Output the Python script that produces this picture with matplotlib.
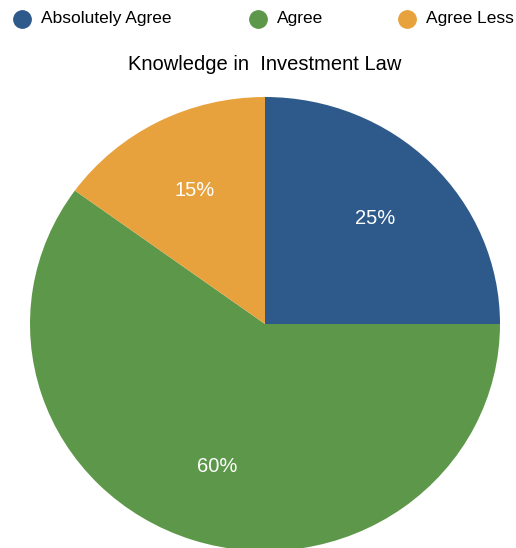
import matplotlib
matplotlib.use("Agg")
import matplotlib.pyplot as plt
from matplotlib.lines import Line2D

labels = ["Absolutely Agree", "Agree", "Agree Less"]
shares = [25, 60, 15]
colors = ["#2D5A8B", "#5D984A", "#E8A23D"]
title = "Knowledge in  Investment Law"

plt.rcParams["font.family"] = ["Liberation Sans", "DejaVu Sans"]

W, H = 516, 548
fig = plt.figure(figsize=(W / 100, H / 100), dpi=100)

# pie axes: centre at (265, 324) px from top-left, radii 235 x 227 px
cx, cy, rx, ry = 265, 324, 235, 227
ax = fig.add_axes([(cx - rx) / W, (H - cy - ry) / H, 2 * rx / W, 2 * ry / H])
wedges, texts, autotexts = ax.pie(
    shares, colors=colors, startangle=90, counterclock=False,
    autopct="%d%%", pctdistance=0.66,
    wedgeprops=dict(linewidth=0),
    textprops=dict(color="white", fontsize=14.5),
)
ax.set_xlim(-1, 1)
ax.set_ylim(-1, 1)
ax.set_aspect("auto")
ax.axis("off")

fig.text(cx / W, 1 - 64 / H, title, ha="center", va="center", fontsize=14.5)

# legend row across the top
marker_x = [22, 258, 407]
for lab, col, mx in zip(labels, colors, marker_x):
    fig.add_artist(Line2D([mx / W], [1 - 19 / H], marker="o", markersize=12.5,
                          color=col, linestyle="none",
                          transform=fig.transFigure))
    fig.text((mx + 19) / W, 1 - 19 / H, lab, ha="left", va="center",
             fontsize=12.5)

fig.savefig("out.png", dpi=100)
